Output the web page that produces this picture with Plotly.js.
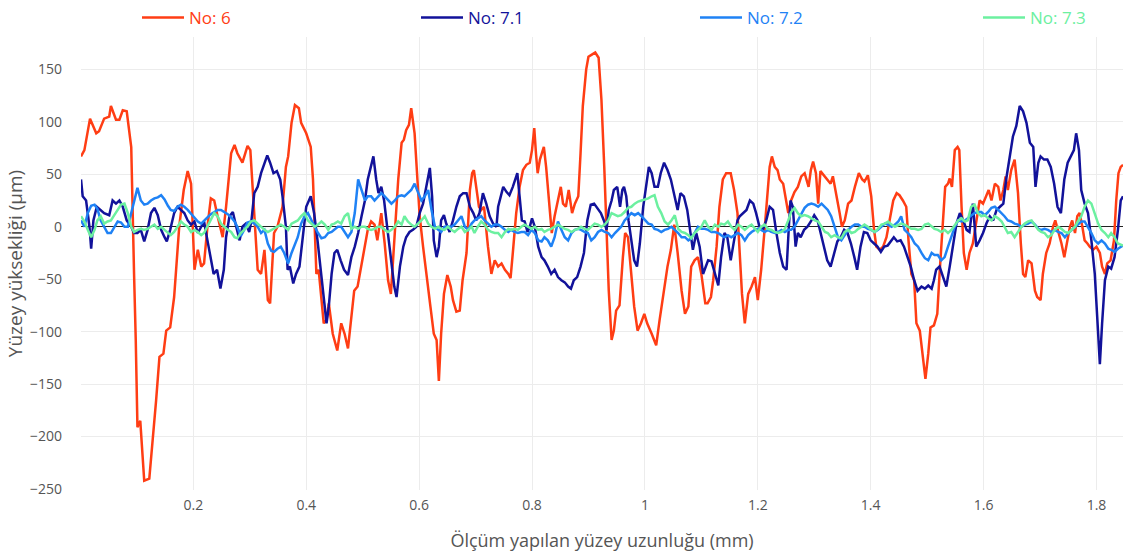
<!DOCTYPE html>
<html>
<head>
<meta charset="utf-8">
<script src="https://cdn.plot.ly/plotly-3.0.1.min.js"></script>
<style>
  html, body { margin: 0; padding: 0; background: #fff; }
  #chart { width: 1123px; height: 558px; }
</style>
</head>
<body>
<div id="chart"></div>
<script>
// Surface profile readings, position in mm, height in µm

// Profile No: 6
const x_no6 = [
  0.001, 0.007, 0.017, 0.028, 0.033, 0.042, 0.051, 0.054, 0.063, 0.069,
  0.075, 0.082, 0.090, 0.092, 0.095, 0.098, 0.101, 0.106, 0.110, 0.113,
  0.122, 0.128, 0.134, 0.140, 0.147, 0.152, 0.159, 0.166, 0.169, 0.175,
  0.183, 0.190, 0.196, 0.202, 0.208, 0.214, 0.219, 0.225, 0.231, 0.237,
  0.243, 0.252, 0.258, 0.267, 0.273, 0.278, 0.287, 0.296, 0.301, 0.307,
  0.314, 0.320, 0.326, 0.332, 0.336, 0.343, 0.349, 0.358, 0.364, 0.368,
  0.374, 0.380, 0.387, 0.391, 0.400, 0.408, 0.412, 0.415, 0.418, 0.422,
  0.427, 0.431, 0.436, 0.440, 0.447, 0.455, 0.462, 0.468, 0.474, 0.480,
  0.485, 0.491, 0.497, 0.504, 0.509, 0.515, 0.521, 0.526, 0.533, 0.539,
  0.545, 0.550, 0.557, 0.563, 0.569, 0.573, 0.577, 0.582, 0.586, 0.592,
  0.597, 0.601, 0.607, 0.615, 0.620, 0.626, 0.631, 0.635, 0.639, 0.644,
  0.650, 0.656, 0.660, 0.666, 0.672, 0.677, 0.684, 0.690, 0.694, 0.697,
  0.701, 0.706, 0.710, 0.715, 0.722, 0.728, 0.734, 0.740, 0.746, 0.752,
  0.758, 0.762, 0.766, 0.772, 0.778, 0.784, 0.790, 0.796, 0.800, 0.804,
  0.807, 0.810, 0.814, 0.821, 0.825, 0.831, 0.835, 0.840, 0.845, 0.851,
  0.855, 0.860, 0.865, 0.871, 0.876, 0.882, 0.886, 0.890, 0.896, 0.900,
  0.906, 0.912, 0.918, 0.923, 0.928, 0.932, 0.936, 0.941, 0.945, 0.949,
  0.955, 0.961, 0.965, 0.970, 0.976, 0.981, 0.987, 0.993, 0.999, 1.004,
  1.012, 1.020, 1.026, 1.034, 1.040, 1.046, 1.052, 1.058, 1.065, 1.071,
  1.077, 1.082, 1.088, 1.094, 1.100, 1.107, 1.111, 1.117, 1.121, 1.127,
  1.132, 1.138, 1.144, 1.152, 1.158, 1.164, 1.168, 1.172, 1.177, 1.183,
  1.189, 1.195, 1.200, 1.206, 1.212, 1.217, 1.221, 1.225, 1.230, 1.235,
  1.239, 1.245, 1.249, 1.254, 1.259, 1.265, 1.271, 1.277, 1.283, 1.286,
  1.290, 1.294, 1.298, 1.303, 1.307, 1.311, 1.317, 1.323, 1.329, 1.333,
  1.339, 1.345, 1.349, 1.354, 1.360, 1.366, 1.372, 1.379, 1.385, 1.389,
  1.395, 1.401, 1.406, 1.410, 1.416, 1.422, 1.428, 1.434, 1.440, 1.446,
  1.451, 1.457, 1.463, 1.467, 1.472, 1.477, 1.481, 1.487, 1.493, 1.497,
  1.502, 1.506, 1.512, 1.518, 1.522, 1.528, 1.532, 1.537, 1.540, 1.544,
  1.549, 1.554, 1.557, 1.561, 1.565, 1.570, 1.575, 1.581, 1.587, 1.593,
  1.599, 1.605, 1.609, 1.614, 1.620, 1.626, 1.630, 1.635, 1.639, 1.643,
  1.649, 1.655, 1.661, 1.666, 1.670, 1.674, 1.679, 1.685, 1.691, 1.695,
  1.701, 1.705, 1.711, 1.717, 1.723, 1.727, 1.732, 1.738, 1.743, 1.747,
  1.753, 1.757, 1.762, 1.766, 1.770, 1.775, 1.779, 1.784, 1.788, 1.794,
  1.800, 1.806, 1.810, 1.815, 1.819, 1.825, 1.831, 1.835, 1.839, 1.843,
  1.847
];
const y_no6 = [
  67, 73, 103, 89, 91, 103, 105, 115, 102, 102,
  111, 110, 76, 19, -45, -108, -191, -185, -223, -242,
  -240, -204, -166, -124, -121, -99, -96, -67, -45, 0,
  35, 53, 41, -41, -22, -38, -35, 0, 27, 25,
  10, -10, 19, 70, 78, 70, 61, 77, 73, 25,
  -41, -45, -22, -70, -73, -6, 0, 19, 57, 67,
  99, 116, 113, 99, 89, 76, 45, 0, -45, -41,
  -67, -92, -89, -73, -102, -118, -92, -102, -116, -89,
  -61, -57, -38, -19, -3, 5, 2, -13, 13, -16,
  -51, -64, 0, 45, 80, 83, 92, 97, 113, 89,
  45, 10, -19, -57, -76, -102, -108, -147, -102, -64,
  -46, -57, -70, -81, -80, -51, -25, 35, 51, 54,
  38, 19, 16, 19, -19, -45, -32, -38, -35, -41,
  -45, -49, -25, 13, 38, 54, 59, 61, 73, 94,
  70, 51, 64, 76, 57, 19, -6, 10, 22, 38,
  22, 19, 35, 13, 22, 29, 70, 115, 150, 162,
  164, 166, 161, 121, 57, 0, -61, -108, -99, -80,
  -75, -29, -6, -10, -45, -76, -99, -92, -83, -92,
  -102, -113, -89, -57, -38, -22, 2, -25, -61, -83,
  -76, -38, -32, -29, -45, -73, -73, -67, -51, -19,
  19, 45, 51, 51, 35, 13, -25, -64, -92, -64,
  -57, -48, -70, -41, -3, 32, 57, 67, 57, 54,
  45, 41, 29, 13, 25, 33, 38, 48, 51, 45,
  38, 54, 62, 51, 22, 53, 49, 45, 41, 48,
  32, 13, 0, 6, 22, 25, 38, 51, 45, 43,
  49, 29, -3, -19, -22, -19, -10, 6, 25, 32,
  30, 25, 19, -13, -45, -51, -92, -99, -124, -145,
  -121, -96, -94, -83, -45, 0, 38, 41, 46, 38,
  73, 76, 73, 19, -25, -41, -25, -16, 6, 25,
  22, 29, 35, 25, 41, 38, 25, 35, 48, 35,
  54, 64, 32, -16, -45, -48, -32, -35, -61, -67,
  -70, -45, -25, -16, 0, 6, -3, -16, -29, -16,
  0, 6, -6, 10, 13, 0, -13, -16, -19, -22,
  -19, -25, -38, -45, -35, -32, -13, 25, 51, 57,
  59
];

// Profile No: 7.1
const x_no71 = [
  0.001, 0.004, 0.010, 0.016, 0.019, 0.023, 0.029, 0.036, 0.042, 0.051,
  0.057, 0.063, 0.069, 0.075, 0.082, 0.090, 0.095, 0.101, 0.107, 0.113,
  0.119, 0.125, 0.131, 0.137, 0.143, 0.149, 0.153, 0.159, 0.166, 0.172,
  0.178, 0.184, 0.190, 0.196, 0.202, 0.208, 0.214, 0.219, 0.225, 0.231,
  0.236, 0.242, 0.248, 0.254, 0.258, 0.264, 0.270, 0.276, 0.282, 0.287,
  0.293, 0.299, 0.303, 0.308, 0.314, 0.320, 0.326, 0.331, 0.336, 0.342,
  0.348, 0.354, 0.358, 0.364, 0.367, 0.371, 0.377, 0.382, 0.388, 0.394,
  0.400, 0.408, 0.414, 0.420, 0.426, 0.432, 0.436, 0.440, 0.445, 0.450,
  0.455, 0.461, 0.467, 0.474, 0.480, 0.486, 0.492, 0.498, 0.504, 0.509,
  0.514, 0.519, 0.524, 0.528, 0.533, 0.538, 0.544, 0.550, 0.556, 0.560,
  0.566, 0.572, 0.577, 0.583, 0.589, 0.595, 0.601, 0.607, 0.613, 0.619,
  0.623, 0.626, 0.631, 0.635, 0.639, 0.644, 0.648, 0.654, 0.660, 0.666,
  0.672, 0.678, 0.684, 0.690, 0.696, 0.701, 0.707, 0.713, 0.719, 0.725,
  0.731, 0.737, 0.740, 0.749, 0.755, 0.760, 0.766, 0.774, 0.778, 0.782,
  0.787, 0.792, 0.796, 0.800, 0.805, 0.811, 0.817, 0.822, 0.828, 0.834,
  0.840, 0.846, 0.852, 0.858, 0.864, 0.869, 0.874, 0.880, 0.886, 0.892,
  0.898, 0.904, 0.910, 0.916, 0.922, 0.928, 0.932, 0.936, 0.941, 0.945,
  0.951, 0.956, 0.960, 0.963, 0.967, 0.971, 0.976, 0.981, 0.986, 0.991,
  0.997, 1.003, 1.007, 1.012, 1.017, 1.023, 1.028, 1.034, 1.040, 1.046,
  1.052, 1.058, 1.063, 1.069, 1.075, 1.081, 1.085, 1.091, 1.097, 1.103,
  1.109, 1.112, 1.118, 1.124, 1.130, 1.135, 1.141, 1.146, 1.152, 1.158,
  1.164, 1.168, 1.174, 1.180, 1.186, 1.192, 1.197, 1.203, 1.209, 1.215,
  1.221, 1.227, 1.233, 1.239, 1.245, 1.251, 1.255, 1.258, 1.262, 1.267,
  1.271, 1.276, 1.282, 1.288, 1.294, 1.300, 1.306, 1.311, 1.317, 1.323,
  1.329, 1.335, 1.341, 1.347, 1.353, 1.359, 1.365, 1.371, 1.376, 1.382,
  1.388, 1.394, 1.400, 1.406, 1.412, 1.418, 1.424, 1.430, 1.436, 1.441,
  1.447, 1.453, 1.459, 1.465, 1.471, 1.477, 1.483, 1.490, 1.496, 1.502,
  1.508, 1.512, 1.516, 1.522, 1.528, 1.534, 1.540, 1.546, 1.552, 1.558,
  1.564, 1.570, 1.575, 1.581, 1.587, 1.593, 1.599, 1.605, 1.611, 1.617,
  1.623, 1.629, 1.635, 1.640, 1.646, 1.652, 1.658, 1.664, 1.670, 1.676,
  1.682, 1.688, 1.692, 1.697, 1.701, 1.707, 1.713, 1.719, 1.725, 1.731,
  1.737, 1.743, 1.749, 1.754, 1.760, 1.764, 1.769, 1.773, 1.779, 1.785,
  1.791, 1.797, 1.802, 1.806, 1.810, 1.815, 1.821, 1.826, 1.832, 1.838,
  1.843, 1.847
];
const y_no71 = [
  45, 29, 25, 0, -21, 6, 19, 16, 13, 11,
  25, 22, 25, 19, 6, 0, -6, -6, -3, -14,
  -3, 13, 18, 11, -3, -10, -14, -3, 13, 19,
  16, 13, 6, 2, 5, -6, 0, 5, -13, -32,
  -45, -41, -59, -41, -10, 10, 14, 0, -13, 0,
  3, -5, 6, 32, 38, 51, 61, 68, 61, 51,
  53, 45, 29, 0, -41, -38, -54, -45, -38, -6,
  19, 29, 13, -13, -45, -76, -92, -76, -45, -25,
  -22, -32, -41, -46, -29, -19, -6, 10, 25, 45,
  57, 67, 45, 32, 38, 25, -3, -29, -57, -67,
  -38, -19, -10, -5, -3, 0, 13, 22, 38, 56,
  29, -13, -29, -19, 6, 11, 3, -5, 6, 19,
  29, 32, 32, 19, 13, 6, 13, 32, 22, 10,
  3, 0, 19, 38, 33, 30, 38, 51, 29, 6,
  5, -5, 0, 8, 0, -19, -29, -32, -38, -45,
  -41, -48, -51, -53, -57, -59, -51, -48, -38, -25,
  6, 21, 22, 18, 13, 5, -3, 16, 25, 35,
  38, 19, 35, 38, 29, 6, -13, -32, -38, -16,
  19, 45, 57, 51, 38, 38, 51, 61, 54, 45,
  29, 16, 32, 29, 16, -10, -22, -6, -19, -45,
  -35, -32, -33, -45, -56, -29, -6, -10, -32, -13,
  6, 10, 13, 16, 25, 22, 13, 0, -3, 6,
  19, 16, -6, -25, -38, -41, 0, 25, 19, -19,
  -6, -10, -3, 0, 5, 11, 6, -6, -19, -32,
  -38, -25, -14, -10, -3, -6, -16, -29, -41, -19,
  -5, -6, -13, -16, -19, -24, -19, -18, -13, -10,
  -14, -13, -19, -29, -38, -51, -61, -57, -59, -56,
  -59, -51, -41, -38, -48, -57, -38, -16, 3, 13,
  6, -3, -5, 22, -19, -13, -6, 3, 10, 6,
  16, 19, 22, 45, 67, 86, 96, 115, 110, 99,
  80, 76, 38, 61, 67, 64, 64, 57, 41, 19,
  13, 45, 61, 67, 73, 89, 73, 35, 22, 13,
  -13, -45, -92, -131, -92, -51, -38, -40, -29, -3,
  25, 29
];

// Profiles No: 7.2 and No: 7.3 share the same sampling positions
const x_fine = [
  0.001, 0.007, 0.013, 0.019, 0.025, 0.030, 0.036, 0.042, 0.048, 0.054,
  0.060, 0.066, 0.072, 0.078, 0.084, 0.090, 0.095, 0.101, 0.107, 0.113,
  0.119, 0.125, 0.131, 0.137, 0.143, 0.149, 0.155, 0.160, 0.166, 0.172,
  0.178, 0.184, 0.190, 0.196, 0.202, 0.208, 0.214, 0.219, 0.225, 0.231,
  0.237, 0.243, 0.249, 0.255, 0.261, 0.267, 0.273, 0.278, 0.284, 0.290,
  0.296, 0.302, 0.308, 0.314, 0.320, 0.326, 0.332, 0.338, 0.343, 0.349,
  0.355, 0.361,
  0.368, 0.374, 0.380, 0.385, 0.391, 0.397, 0.403, 0.409, 0.415, 0.421,
  0.427, 0.433, 0.439, 0.445, 0.450, 0.456, 0.462, 0.468, 0.474, 0.480,
  0.486, 0.492, 0.498, 0.504, 0.509, 0.515, 0.521, 0.527, 0.533, 0.539,
  0.545, 0.551, 0.557, 0.563, 0.569, 0.574, 0.580, 0.586, 0.592, 0.598,
  0.604, 0.610, 0.616, 0.622, 0.628, 0.634, 0.639, 0.645, 0.651, 0.657,
  0.663, 0.669, 0.675, 0.681, 0.687, 0.693, 0.698, 0.704, 0.710, 0.716,
  0.722, 0.728, 0.734,
  0.740, 0.746, 0.752, 0.758, 0.763, 0.769, 0.775, 0.781, 0.787, 0.793,
  0.799, 0.805, 0.811, 0.817, 0.822, 0.828, 0.834, 0.840, 0.846, 0.852,
  0.858, 0.864, 0.870, 0.876, 0.882, 0.887, 0.893, 0.899, 0.905, 0.911,
  0.917, 0.923, 0.929, 0.935, 0.941, 0.947, 0.952, 0.958, 0.964, 0.970,
  0.976, 0.982, 0.988, 0.994, 1.000, 1.006, 1.012, 1.017, 1.023, 1.029,
  1.035, 1.041, 1.047, 1.053, 1.059, 1.065, 1.071, 1.077, 1.082, 1.088,
  1.094, 1.100,
  1.106, 1.112, 1.118, 1.124, 1.130, 1.135, 1.141, 1.147, 1.153, 1.159,
  1.165, 1.171, 1.177, 1.183, 1.189, 1.195, 1.200, 1.206, 1.212, 1.218,
  1.224, 1.230, 1.236, 1.242, 1.248, 1.254, 1.259, 1.265, 1.271, 1.277,
  1.283, 1.289, 1.295, 1.301, 1.307, 1.313, 1.319, 1.324, 1.330, 1.336,
  1.342, 1.348, 1.354, 1.360, 1.366, 1.372, 1.378, 1.384, 1.389, 1.395,
  1.401, 1.407, 1.413, 1.419, 1.425, 1.431, 1.437, 1.443, 1.449, 1.454,
  1.460, 1.466, 1.472,
  1.478, 1.484, 1.490, 1.496, 1.502, 1.508, 1.513, 1.519, 1.525, 1.531,
  1.537, 1.543, 1.549, 1.555, 1.561, 1.567, 1.572, 1.578, 1.584, 1.590,
  1.596, 1.602, 1.608, 1.614, 1.620, 1.626, 1.632, 1.637, 1.643, 1.649,
  1.655, 1.661, 1.667, 1.673, 1.679, 1.685, 1.691, 1.697, 1.702, 1.708,
  1.714, 1.720, 1.726, 1.732, 1.738, 1.744, 1.750, 1.756, 1.762, 1.767,
  1.773, 1.779, 1.785, 1.791, 1.797, 1.803, 1.809, 1.815, 1.821, 1.826,
  1.832, 1.838, 1.847
];

// Profile No: 7.2
const y_no72 = [
  6, 0, 13, 20, 21, 17, 6, 0, -6, -6,
  0, 5, 4, 0, 0, 13, 25, 37, 25, 21,
  22, 25, 27, 28, 30, 26, 20, 16, 15, 19,
  21, 19, 16, 12, 8, 5, 3, 6, 9, 12,
  14, 16, 16, 14, 12, 9, 5, 0, -9, -3,
  4, 5, 3, 0, -6, -3, -16, -23, -24, -21,
  -19, -25,
  -35, -25, -16, -10, 3, 10, 13, 6, 0, -6,
  -11, -10, -6, -5, -3, 0, 0, -5, -10, -5,
  13, 45, 35, 25, 29, 29, 25, 29, 32, 29,
  25, 22, 25, 29, 30, 29, 32, 35, 41, 32,
  25, 29, 35, 16, 0, -3, -5, 0, 0, 0,
  2, 6, 10, 0, -3, 3, 6, 8, 10, 6,
  3, 0, 2,
  2, 0, -3, -5, -3, -5, -6, -5, -5, -8,
  -3, -6, -13, -14, -10, -13, -19, -10, 5, -3,
  -10, -13, -6, -3, -2, -3, -5, -6, -13, -10,
  -5, -3, -5, -6, -10, -6, -3, 0, 6, 10,
  13, 11, 13, 10, 6, 3, 2, -2, -3, -5,
  -3, -2, 0, -3, -6, -10, -10, -13, -11, -6,
  0, -2,
  -2, -3, -5, -5, -6, -8, -10, -8, -10, -8,
  -6, -8, -13, -8, -5, -3, -2, -3, -5, -3,
  -5, -6, -5, -3, -5, -3, -3, 0, 6, 13,
  18, 21, 22, 21, 19, 22, 19, 16, 10, 0,
  -10, -13, -8, -3, 0, 2, 2, 0, 0, -2,
  -3, -5, -3, 0, 3, 2, 0, 2, 5, 10,
  -3, -6, -10,
  -16, -19, -25, -30, -32, -25, -27, -27, -32, -29,
  -19, -10, 0, 6, 5, 6, 8, 10, 13, 14,
  14, 11, 14, 18, 19, 16, 13, 10, 6, 5,
  3, 2, 0, 2, 3, 5, 2, -2, -3, -2,
  -3, -5, -3, -5, -6, -10, -6, -3, 0, 2,
  5, 5, 0, -6, -13, -16, -13, -16, -21, -22,
  -24, -21, -18
];

// Profile No: 7.3
const y_no73 = [
  10, 5, -3, -10, -3, 6, 10, 3, 5, 6,
  11, 16, 21, 22, 13, 0, -5, -3, -2, -3,
  -2, 0, 2, -2, 0, -3, -6, -8, -5, 0,
  5, 2, 0, -5, -3, -5, -8, -6, 0, 6,
  13, 10, 3, 0, -3, -5, -10, -11, -6, -3,
  0, 5, 6, 3, 0, -3, -5, -3, -2, 0,
  2, 0,
  -3, 3, 5, 6, 10, 13, 6, 3, 0, 2,
  5, 2, -3, 2, 3, 5, 3, 10, 13, -2,
  0, -2, 0, 0, -2, -3, -2, 0, 0, -3,
  -5, -3, 0, 5, 2, 10, 5, 2, 0, 3,
  6, 10, 3, 0, -2, 0, -2, -3, 0, -3,
  -5, -2, 0, -5, -3, 0, -6, 0, 5, 2,
  -3, -5, -6,
  -6, -10, -5, -2, -3, -2, -3, 0, 2, 0,
  -2, 0, -3, -2, -5, -3, -2, 0, 2, 0,
  -2, -3, -5, -3, -2, 0, -2, -3, 0, 3,
  2, 0, 2, 6, 13, 11, 10, 11, 14, 18,
  19, 22, 24, 25, 26, 27, 29, 30, 19, 13,
  5, 2, 6, 11, -2, -5, -6, -8, -11, -6,
  -3, 0,
  6, 0, -3, 2, 0, 3, 2, 5, 0, -3,
  2, 0, -3, 0, 2, -2, -5, 0, 2, -2,
  -3, -5, -6, -5, -2, 6, 14, 18, 13, 10,
  11, 10, 8, 6, 5, 0, -5, -6, -10, -8,
  -10, -11, -5, -3, -6, -5, -2, 0, 2, 0,
  -3, -5, -2, 2, 3, 5, 2, 0, 2, 3,
  2, 0, -2,
  -2, -3, -2, 2, 3, 0, -2, -3, -5, -3,
  -6, -3, 2, 6, 8, 5, 6, 19, 21, 13,
  10, 11, 8, 6, 10, 8, 5, 0, -6, -5,
  -10, -5, 0, 3, 5, 6, 2, -3, -5, -6,
  -10, -8, -3, 0, -2, -5, -6, -3, 0, 5,
  10, 19, 25, 22, 13, 3, -3, -6, -10, -6,
  -10, -16, -18
];

const seriesNames = ['No: 6', 'No: 7.1', 'No: 7.2', 'No: 7.3'];
const seriesColors = ['#ff3d14', '#12129a', '#1f82f5', '#6cf0a0'];

const xTitle = 'Ölçüm yapılan yüzey uzunluğu (mm)';
const yTitle = 'Yüzey yüksekliği (µm)';

const xs = [x_no6, x_no71, x_fine, x_fine];
const ys = [y_no6, y_no71, y_no72, y_no73];

// each series gets its own legend box so the entries sit in a spaced row
const legendIds = ['legend', 'legend2', 'legend3', 'legend4'];
const legendLeft = [137, 416, 695, 978];

const traces = seriesNames.map((name, i) => ({
  type: 'scatter',
  mode: 'lines',
  x: xs[i],
  y: ys[i],
  name: '<span style="color:' + seriesColors[i] + '">' + name + '</span>',
  legend: legendIds[i],
  line: { color: seriesColors[i], width: 2.5 },
  hoverinfo: 'x+y+name'
}));

const family = '"Open Sans", sans-serif';
const axisFont = { family: family, size: 14, color: '#555' };

const layout = {
  width: 1123,
  height: 558,
  margin: { l: 81, r: 0, t: 37, b: 68, pad: 0, autoexpand: false },
  paper_bgcolor: '#ffffff',
  plot_bgcolor: '#ffffff',
  font: { family: family, color: '#555' },
  showlegend: true,
  xaxis: {
    range: [0.001, 1.847],
    tick0: 0,
    dtick: 0.2,
    showgrid: true,
    gridcolor: '#ececec',
    gridwidth: 1,
    zeroline: false,
    showline: false,
    ticks: '',
    ticklabelstandoff: 5,
    tickfont: axisFont,
    title: { text: xTitle, standoff: 21, font: { family: family, size: 18, color: '#555' } }
  },
  yaxis: {
    range: [-250.9, 180.8],
    tick0: 0,
    dtick: 50,
    showgrid: true,
    gridcolor: '#ececec',
    gridwidth: 1,
    zeroline: true,
    zerolinecolor: '#222',
    zerolinewidth: 1,
    showline: false,
    ticks: '',
    ticklabelstandoff: 18,
    tickfont: axisFont,
    title: { text: yTitle, font: { family: family, size: 19, color: '#555' } }
  }
};

legendIds.forEach((id, i) => {
  layout[id] = {
    orientation: 'h',
    xref: 'container',
    yref: 'container',
    x: legendLeft[i] / layout.width,
    y: 1,
    xanchor: 'left',
    yanchor: 'top',
    itemwidth: 42,
    font: { family: family, size: 17 },
    bgcolor: 'rgba(0,0,0,0)'
  };
});

Plotly.newPlot('chart', traces, layout, { displayModeBar: false, responsive: false });
</script>
</body>
</html>
